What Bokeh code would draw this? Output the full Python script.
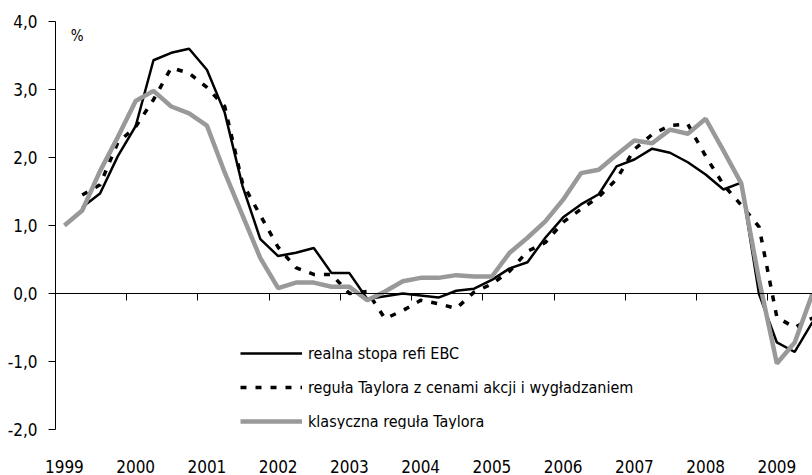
from bokeh.plotting import figure
from bokeh.models import (FixedTicker, CustomJSTickFormatter, LinearAxis, Range1d,
                          Legend, LegendItem, Label)
from bokeh.embed import file_html
from bokeh.resources import INLINE

nan = float("nan")

# ---- data (quarterly, 1999Q1 .. 2009Q3) ----
years = ["1999", "2000", "2001", "2002", "2003", "2004", "2005", "2006", "2007", "2008", "2009"]
quarters = [f"{y}Q{q}" for y in years for q in (1, 2, 3, 4)][:43]

refi_real = [nan, 1.27, 1.47, 2.02, 2.46, 3.43, 3.54, 3.60, 3.29, 2.66,
             1.58, 0.80, 0.55, 0.60, 0.67, 0.30, 0.30, -0.08, -0.04, 0.00,
             -0.03, -0.06, 0.04, 0.07, 0.20, 0.37, 0.46, 0.82, 1.12, 1.31,
             1.46, 1.87, 1.97, 2.13, 2.07, 1.93, 1.75, 1.53, 1.63, -0.01,
             -0.72, -0.86, -0.42]

taylor_akcje = [nan, 1.45, 1.60, 2.22, 2.45, 2.85, 3.32, 3.24, 3.03, 2.75,
                1.62, 1.15, 0.68, 0.38, 0.28, 0.28, 0.00, 0.03, -0.37, -0.25,
                -0.10, -0.15, -0.22, 0.02, 0.14, 0.33, 0.62, 0.75, 1.05, 1.24,
                1.42, 1.68, 2.12, 2.34, 2.47, 2.49, 2.02, 1.60, 1.30, 0.98,
                -0.35, -0.50, -0.36]

taylor_klas = [1.00, 1.22, 1.80, 2.30, 2.83, 2.98, 2.75, 2.65, 2.47, 1.78,
               1.15, 0.52, 0.08, 0.16, 0.16, 0.10, 0.10, -0.10, 0.03, 0.18,
               0.23, 0.23, 0.27, 0.25, 0.25, 0.60, 0.82, 1.06, 1.38, 1.77,
               1.82, 2.04, 2.25, 2.21, 2.41, 2.35, 2.57, 2.10, 1.62, 0.20,
               -1.03, -0.72, 0.00]

series_names = ["realna stopa refi EBC",
                "reguła Taylora z cenami akcji i wygładzaniem",
                "klasyczna reguła Taylora"]
y_ticks = [-2, -1, 0, 1, 2, 3, 4]

# ---- derived positions (category centres, year boundaries) ----
x = [i + 0.5 for i in range(len(quarters))]
year_label_pos = [4 * k + 0.5 for k in range(len(years))]
year_bounds = [4 * k for k in range(len(years))]

FONT = "DejaVu Sans Condensed"
FS = "17px"

p = figure(width=812, height=475,
           x_range=Range1d(0, len(quarters) - 0.5), y_range=Range1d(-2, 4),
           output_backend="svg", toolbar_location=None,
           min_border_left=55, min_border_right=0, min_border_top=21, min_border_bottom=0)
p.outline_line_color = None
p.grid.visible = False
p.background_fill_color = "white"

# y axis
ya = p.yaxis[0]
ya.ticker = FixedTicker(ticks=y_ticks)
ya.formatter = CustomJSTickFormatter(code="return tick.toFixed(1).replace('.', ',')")
ya.major_tick_out = 7
ya.major_tick_in = 0
ya.minor_tick_out = 0
ya.minor_tick_in = 0
ya.major_label_standoff = 11
ya.major_label_text_font = FONT
ya.major_label_text_font_size = FS
ya.major_label_text_color = "black"
ya.axis_line_color = "black"
ya.major_tick_line_color = "black"

# bottom labels axis (labels only)
xa = p.xaxis[0]
xa.ticker = FixedTicker(ticks=year_label_pos)
xa.major_label_overrides = {pos: lab for pos, lab in zip(year_label_pos, years)}
xa.axis_line_color = None
xa.major_tick_line_color = None
xa.minor_tick_line_color = None
xa.major_tick_out = 0
xa.major_label_standoff = 30
xa.major_label_text_font = FONT
xa.major_label_text_font_size = FS
xa.major_label_text_color = "black"

# zero line axis with ticks at year boundaries
za = LinearAxis(fixed_location=0, ticker=FixedTicker(ticks=year_bounds),
                formatter=CustomJSTickFormatter(code="return ''"),
                major_tick_in=0, major_tick_out=7, minor_tick_in=0, minor_tick_out=0,
                axis_line_color="black", major_tick_line_color="black",
                minor_tick_line_color=None)
p.add_layout(za, "below")

r1 = p.line(x, refi_real, line_color="black", line_width=2.5)
r2 = p.line(x, taylor_akcje, line_color="black", line_width=3.5, line_dash="6 9")
r3 = p.line(x, taylor_klas, line_color="#999999", line_width=4.5)

legend = Legend(items=[LegendItem(label=series_names[0], renderers=[r1]),
                       LegendItem(label=series_names[1], renderers=[r2]),
                       LegendItem(label=series_names[2], renderers=[r3])],
                location=(185, -2), orientation="vertical",
                glyph_width=62, glyph_height=20, label_height=20, spacing=14,
                padding=0, margin=0, label_standoff=6,
                border_line_color=None, background_fill_alpha=0,
                label_text_font=FONT, label_text_font_size="16px",
                label_text_color="black", label_text_baseline="middle")
p.add_layout(legend)

p.add_layout(Label(x=1.22, y=3.78, text="%", text_align="center", text_baseline="middle",
                   text_font=FONT, text_font_size="15px", text_color="black"))

open("out.html", "w").write(file_html(p, INLINE))
